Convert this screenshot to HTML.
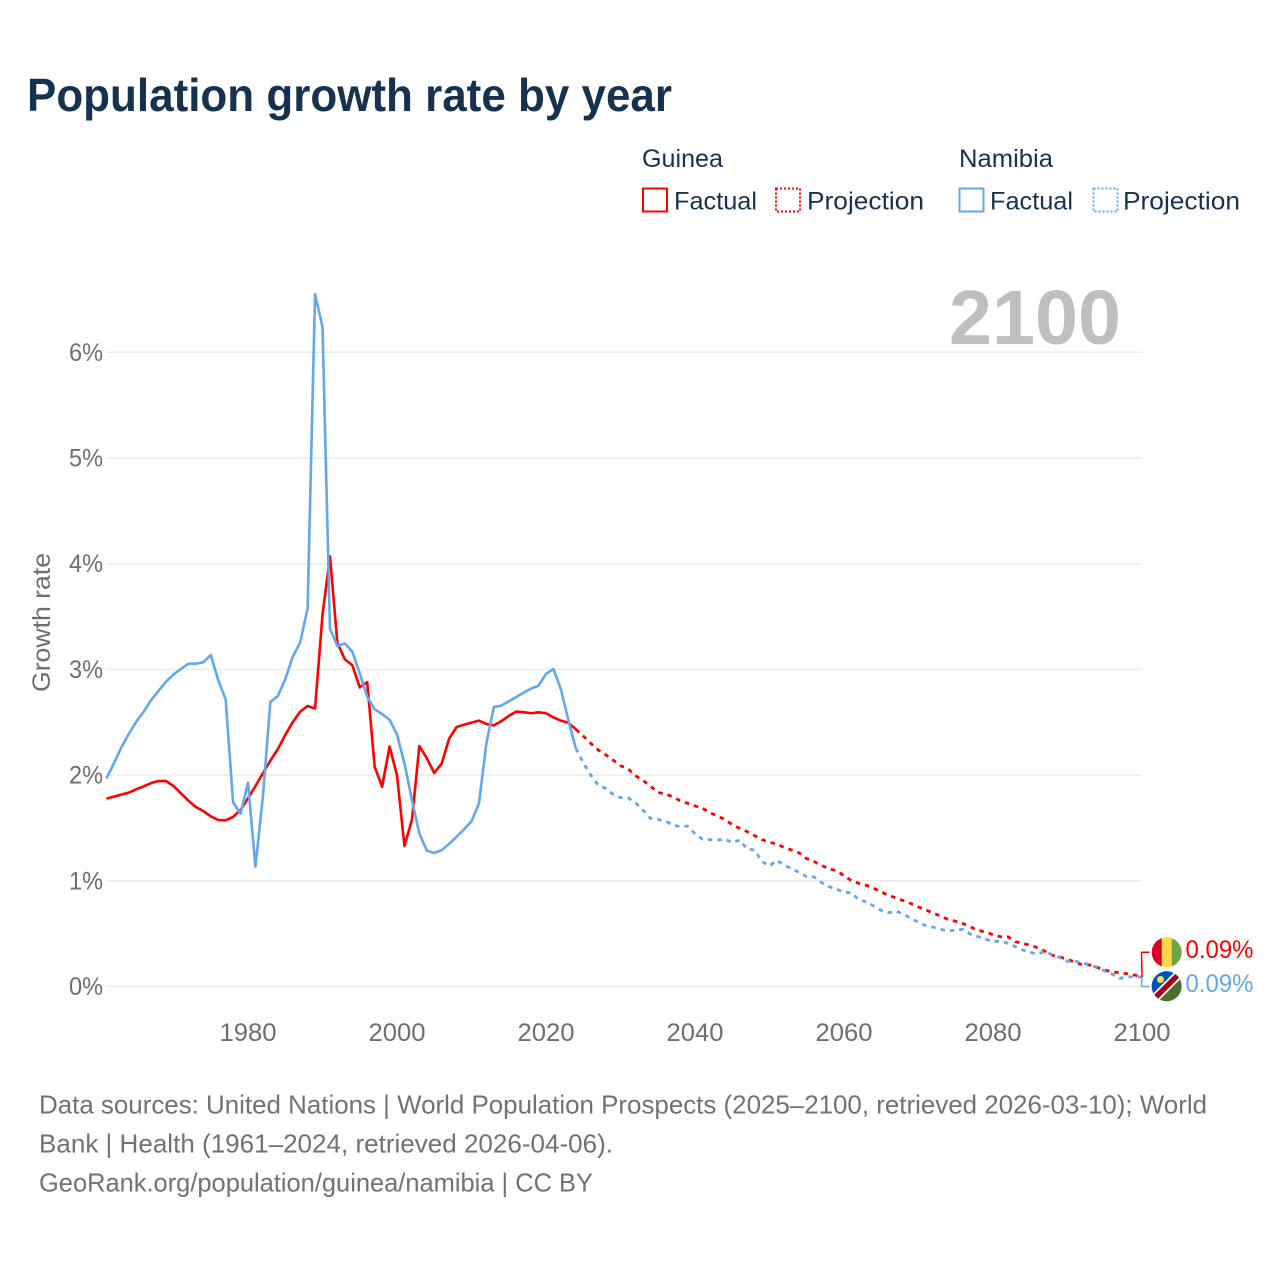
<!DOCTYPE html>
<html lang="en">
<head>
<meta charset="utf-8">
<title>Population growth rate by year</title>
<style>
html,body{margin:0;padding:0;background:#fff;width:1280px;height:1280px;overflow:hidden}
svg{display:block}
text{font-family:"Liberation Sans",sans-serif}
</style>
</head>
<body>
<svg id="chart" width="1280" height="1280" viewBox="0 0 1280 1280" xmlns="http://www.w3.org/2000/svg">
  <rect x="0" y="0" width="1280" height="1280" fill="#ffffff"/>
  <text x="27" y="111" font-size="46" font-weight="700" fill="#17324f" textLength="645" lengthAdjust="spacingAndGlyphs">Population growth rate by year</text>

  <g font-size="25" fill="#17324f">
    <text x="642" y="167" textLength="81" lengthAdjust="spacingAndGlyphs">Guinea</text>
    <text x="959" y="167" textLength="94" lengthAdjust="spacingAndGlyphs">Namibia</text>
    <g>
      <rect x="643" y="188.500" width="24" height="23" fill="none" stroke="#ff0000" stroke-width="2"/>
      <text x="674" y="209.500" textLength="83" lengthAdjust="spacingAndGlyphs">Factual</text>
    </g>
    <g>
      <rect x="776" y="188.500" width="24" height="23" fill="none" stroke="#ff0000" stroke-width="2" stroke-dasharray="2 2"/>
      <text x="807" y="209.500" textLength="117" lengthAdjust="spacingAndGlyphs">Projection</text>
    </g>
    <g>
      <rect x="959.500" y="188.500" width="24" height="23" fill="none" stroke="#62a8ea" stroke-width="2"/>
      <text x="990" y="209.500" textLength="83" lengthAdjust="spacingAndGlyphs">Factual</text>
    </g>
    <g>
      <rect x="1093.500" y="188.500" width="24" height="23" fill="none" stroke="#62a8ea" stroke-width="2" stroke-dasharray="2 2"/>
      <text x="1123" y="209.500" textLength="117" lengthAdjust="spacingAndGlyphs">Projection</text>
    </g>
  </g>

  <g id="grid"></g>
  <g id="yLabels"></g>
  <g id="xLabels"></g>

  <text x="949" y="344" font-size="77" font-weight="700" fill="#bfbfbf" textLength="172" lengthAdjust="spacingAndGlyphs">2100</text>
  <text transform="translate(50 692) rotate(-90)" x="0" y="0" font-size="25" fill="#6e6e6e" textLength="139" lengthAdjust="spacingAndGlyphs">Growth rate</text>

  <g id="series" fill="none" stroke-linejoin="round"></g>

  <g id="connectors" fill="none" stroke-width="1.500"></g>

  <defs>
    <clipPath id="clipGuinea"><circle cx="1166.700" cy="952.300" r="15"/></clipPath>
    <clipPath id="clipNamibia"><circle cx="1166.700" cy="986.300" r="15"/></clipPath>
  </defs>
  <g clip-path="url(#clipGuinea)">
    <rect x="1151" y="937" width="11" height="31" fill="#d80027"/>
    <rect x="1161.700" y="937" width="10" height="31" fill="#ffda44"/>
    <rect x="1171.700" y="937" width="11" height="31" fill="#6da544"/>
  </g>
  <g clip-path="url(#clipNamibia)">
    <rect x="1151" y="971" width="32" height="32" fill="#496e2d"/>
    <polygon points="1151,971 1178,971 1151,998" fill="#0052b4"/>
    <line x1="1148" y1="1005" x2="1186" y2="967" stroke="#ffffff" stroke-width="9"/>
    <line x1="1148" y1="1005" x2="1186" y2="967" stroke="#a2001d" stroke-width="5.500"/>
    <circle cx="1160.500" cy="979.500" r="3.500" fill="#ffda44"/>
  </g>

  <text x="1185.500" y="958" font-size="25" fill="#ff0000" textLength="68" lengthAdjust="spacingAndGlyphs">0.09%</text>
  <text x="1185.500" y="992" font-size="25" fill="#62a8ea" textLength="68" lengthAdjust="spacingAndGlyphs">0.09%</text>

  <g font-size="26" fill="#727272">
    <text x="39" y="1113.500" textLength="1168" lengthAdjust="spacingAndGlyphs">Data sources: United Nations | World Population Prospects (2025–2100, retrieved 2026-03-10); World</text>
    <text x="39" y="1152.500" textLength="574" lengthAdjust="spacingAndGlyphs">Bank | Health (1961–2024, retrieved 2026-04-06).</text>
    <text x="39" y="1191.500" textLength="554" lengthAdjust="spacingAndGlyphs">GeoRank.org/population/guinea/namibia | CC BY</text>
  </g>
</svg>

<script>
const xTickYears = [1980, 2000, 2020, 2040, 2060, 2080, 2100];
const yTickValues = [0, 1, 2, 3, 4, 5, 6];
const yTickLabels = ["0%", "1%", "2%", "3%", "4%", "5%", "6%"];
const factualStartYear = 1961;
const projectionStartYear = 2024;

const guineaFactual = [
  1.777,1.796,1.815,1.834,1.866,1.894,1.925,1.944,1.944,1.897,
  1.828,1.758,1.698,1.66,1.61,1.575,1.572,1.604,1.67,1.78,
  1.897,2.017,2.137,2.245,2.38,2.5,2.6,2.654,2.63,3.515,
  4.07,3.25,3.095,3.04,2.83,2.88,2.08,1.89,2.27,1.999,
  1.33,1.575,2.275,2.16,2.02,2.11,2.345,2.455,2.477,2.496,
  2.515,2.484,2.47,2.51,2.56,2.6,2.595,2.585,2.594,2.585,
  2.546,2.515,2.495,2.433
];
const namibiaFactual = [
  1.969,2.111,2.263,2.389,2.505,2.6,2.71,2.799,2.884,2.953,
  3.004,3.054,3.054,3.067,3.136,2.899,2.717,1.742,1.635,1.928,
  1.134,1.796,2.691,2.748,2.906,3.12,3.253,3.578,6.55,6.24,
  3.388,3.221,3.246,3.168,2.963,2.742,2.622,2.578,2.525,2.385,
  2.111,1.764,1.449,1.285,1.263,1.291,1.348,1.418,1.487,1.563,
  1.733,2.301,2.644,2.657,2.698,2.739,2.78,2.818,2.846,2.957,
  3.004,2.811,2.521,2.253
];
const guineaProjection = [
  2.433,2.37,2.301,2.238,2.193,2.143,2.089,
  2.061,1.995,1.951,1.897,1.837,1.821,1.796,1.758,1.733,1.708,
  1.686,1.645,1.613,1.581,1.531,1.496,1.465,1.427,1.389,1.364,
  1.348,1.314,1.291,1.263,1.209,1.181,1.146,1.112,1.096,1.049,
  1.001,0.976,0.957,0.929,0.894,0.862,0.837,0.812,0.784,0.752,
  0.724,0.692,0.667,0.632,0.617,0.594,0.563,0.531,0.516,0.49,
  0.471,0.471,0.424,0.408,0.389,0.367,0.333,0.295,0.279,0.257,
  0.232,0.204,0.204,0.181,0.156,0.137,0.131,0.121,0.109,0.09
];
const namibiaProjection = [
  2.253,2.118,2.001,1.906,1.875,1.818,1.787,
  1.787,1.739,1.67,1.591,1.581,1.566,1.528,1.512,1.518,1.446,
  1.395,1.389,1.386,1.395,1.361,1.386,1.301,1.291,1.181,1.14,
  1.194,1.146,1.115,1.077,1.039,1.036,0.982,0.944,0.922,0.891,
  0.888,0.818,0.802,0.761,0.72,0.698,0.714,0.683,0.645,0.607,
  0.576,0.56,0.541,0.525,0.534,0.541,0.494,0.471,0.449,0.424,
  0.43,0.408,0.377,0.345,0.323,0.308,0.333,0.298,0.273,0.238,
  0.241,0.222,0.207,0.178,0.147,0.118,0.077,0.09,0.093,0.09
];

const RED = "#ff0000";
const BLUE = "#62a8ea";
const NS = "http://www.w3.org/2000/svg";

function xScale(year) { return 106.45 + (year - 1961) * 7.45; }
function yScale(value) { return 986.5 - value * 105.7; }

function pointsFor(values, startYear) {
  return values.map(function (v, i) {
    return xScale(startYear + i).toFixed(2) + "," + yScale(v).toFixed(2);
  }).join(" ");
}

const grid = document.getElementById("grid");
const yLabels = document.getElementById("yLabels");
const xLabels = document.getElementById("xLabels");
const series = document.getElementById("series");
const connectors = document.getElementById("connectors");

yTickValues.forEach(function (v, i) {
  const line = document.createElementNS(NS, "line");
  
  
  line.setAttribute("x1", xScale(1961));
  line.setAttribute("x2", xScale(2100));
  line.setAttribute("y1", yScale(v));
  line.setAttribute("y2", yScale(v));
  line.setAttribute("stroke", "#ebebeb");
  line.setAttribute("stroke-width", "1.5");
  grid.appendChild(line);

  const label = document.createElementNS(NS, "text");
  
  
  label.setAttribute("x", "103");
  label.setAttribute("y", yScale(v) + 8.5);
  label.setAttribute("text-anchor", "end");
  label.setAttribute("font-size", "25");
  label.setAttribute("fill", "#6e6e6e");
  label.setAttribute("textLength", "34");
  label.setAttribute("lengthAdjust", "spacingAndGlyphs");
  label.textContent = yTickLabels[i];
  yLabels.appendChild(label);
});

xTickYears.forEach(function (year) {
  const label = document.createElementNS(NS, "text");
  
  
  label.setAttribute("x", xScale(year) - 28.5);
  label.setAttribute("y", "1041");
  label.setAttribute("font-size", "25");
  label.setAttribute("fill", "#6e6e6e");
  label.setAttribute("textLength", "57");
  label.setAttribute("lengthAdjust", "spacingAndGlyphs");
  label.textContent = String(year);
  xLabels.appendChild(label);
});

function addLine(values, startYear, color, dashed, name) {
  const line = document.createElementNS(NS, "polyline");
  
  
  line.setAttribute("points", pointsFor(values, startYear));
  line.setAttribute("stroke", color);
  line.setAttribute("stroke-width", dashed ? "2.8" : "2.6");
  if (dashed) { line.setAttribute("stroke-dasharray", "4.5 5"); }
  series.appendChild(line);
}
addLine(guineaProjection, projectionStartYear, RED, true, "guinea-projection-line");
addLine(guineaFactual, factualStartYear, RED, false, "guinea-factual-line");
addLine(namibiaProjection, projectionStartYear, BLUE, true, "namibia-projection-line");
addLine(namibiaFactual, factualStartYear, BLUE, false, "namibia-factual-line");

function addConnector(value, labelY, color, name) {
  const path = document.createElementNS(NS, "polyline");
  
  
  const ex = xScale(2100);
  const ey = yScale(value);
  path.setAttribute("points", ex + "," + ey + " " + (ex - 0.5) + "," + labelY + " " + (ex + 7.5) + "," + labelY);
  path.setAttribute("stroke", color);
  connectors.appendChild(path);
}
addConnector(guineaProjection[guineaProjection.length - 1], 952.3, RED, "guinea-end-connector");
addConnector(namibiaProjection[namibiaProjection.length - 1], 986.5, BLUE, "namibia-end-connector");
</script>
</body>
</html>
